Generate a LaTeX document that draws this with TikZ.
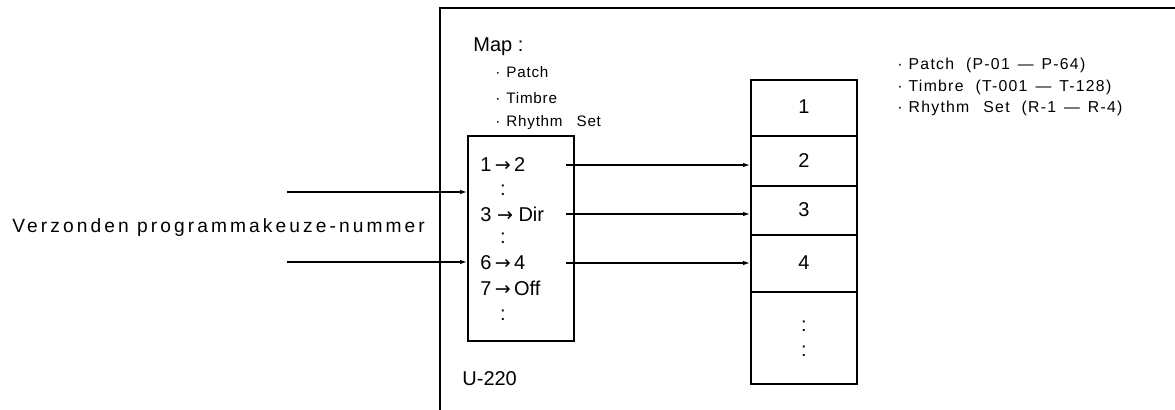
\documentclass[tikz,border=0pt]{standalone}
\usepackage{fontspec}
\setmainfont{Liberation Sans}
\newfontfamily\symfont{DejaVu Sans}
\usetikzlibrary{arrows.meta}
\newcommand{\ra}{{\symfont\fontsize{9.5}{10}\selectfont →}}
\tikzset{
  x=0.5pt, y=-0.5pt,
  frame/.style={line width=0.9pt},
  boxst/.style={draw, line width=0.8pt, inner sep=0pt, rectangle},
  big/.style={font=\fontsize{10}{12}\selectfont, inner sep=0pt},
  small/.style={font=\fontsize{7.6}{9}\selectfont\addfontfeatures{LetterSpace=5}, inner sep=0pt},
  rsmall/.style={font=\fontsize{7.9}{9}\selectfont\addfontfeatures{LetterSpace=8}, inner sep=0pt},
  conn/.style={line width=0.7pt, -{Latex[length=3.5pt,width=2.2pt]}},
}
\begin{document}
\begin{tikzpicture}
\useasboundingbox (0,0) rectangle (1175,410);
% outer frame (open)
\coordinate (ftr) at (1175,8);
\coordinate (ftl) at (440,8);
\coordinate (fbl) at (440,410);
\draw[frame] (ftr) -- (ftl) -- (fbl);

% labels in frame
\node[big, anchor=west] (map) at (473,47) {Map :};
\node[small, anchor=west] (lp) at (495,72) {·\hspace{3pt}Patch};
\node[small, anchor=west] (lt) at (495,98) {·\hspace{3pt}Timbre};
\node[small, anchor=west] (lr) at (495,123) {·\hspace{3pt}Rhythm\hspace{7pt}Set};
\node[big, anchor=west] (u220) at (462,379) {U-220};

% map box
\node[boxst, minimum width=53pt, minimum height=102.5pt] (mapbox) at (521,238.5) {};
\node[big, anchor=west] (m1) at (480,165) {1\,\ra\,2};
\node[big] (c1) at (503,190) {:};
\node[big, anchor=west] (m3) at (480,214) {3 \ra\ Dir};
\node[big] (c2) at (503,238) {:};
\node[big, anchor=west] (m6) at (480,263) {6\,\ra\,4};
\node[big, anchor=west] (m7) at (480,288) {7\,\ra\,Off};
\node[big] (c3) at (503,315) {:};

% stack of numbers
\node[boxst, minimum width=53pt, minimum height=28pt] (s1) at (804,108) {};
\node[boxst, minimum width=53pt, minimum height=25pt] (s2) at (804,161) {};
\node[boxst, minimum width=53pt, minimum height=24.5pt] (s3) at (804,210.5) {};
\node[boxst, minimum width=53pt, minimum height=28.5pt] (s4) at (804,263.5) {};
\node[boxst, minimum width=53pt, minimum height=46pt] (s5) at (804,338) {};
\node[big] (n1) at (804,107) {1};
\node[big] (n2) at (804,161) {2};
\node[big] (n3) at (804,210) {3};
\node[big] (n4) at (804,263) {4};
\node[big] (d1) at (804,326) {:};
\node[big] (d2) at (804,351) {:};

% right list
\node[rsmall, anchor=west] (rp) at (897,65) {·\hspace{3pt}Patch\hspace{6pt}(P-01\hspace{4pt}—\hspace{4pt}P-64)};
\node[rsmall, anchor=west] (rt) at (897,87) {·\hspace{3pt}Timbre\hspace{6pt}(T-001\hspace{4pt}—\hspace{4pt}T-128)};
\node[rsmall, anchor=west] (rr) at (897,108) {·\hspace{3pt}Rhythm\hspace{7pt}Set\hspace{6pt}(R-1\hspace{4pt}—\hspace{4pt}R-4)};

% input label
\node[big, anchor=west, font=\fontsize{9.6}{11}\selectfont\addfontfeatures{LetterSpace=16}] (verz) at (12,228) {Verzonden programmakeuze-nummer};

% input connectors
\coordinate (i1) at (287,192);
\coordinate (i2) at (287,262);
\draw[conn] (i1) -- (i1 -| mapbox.west);
\draw[conn] (i2) -- (i2 -| mapbox.west);

% output connectors
\coordinate (o1) at (566,165);
\coordinate (o2) at (566,214);
\coordinate (o3) at (566,263);
\draw[conn] (o1) -- (o1 -| s2.west);
\draw[conn] (o2) -- (o2 -| s3.west);
\draw[conn] (o3) -- (o3 -| s4.west);
\end{tikzpicture}
\end{document}
